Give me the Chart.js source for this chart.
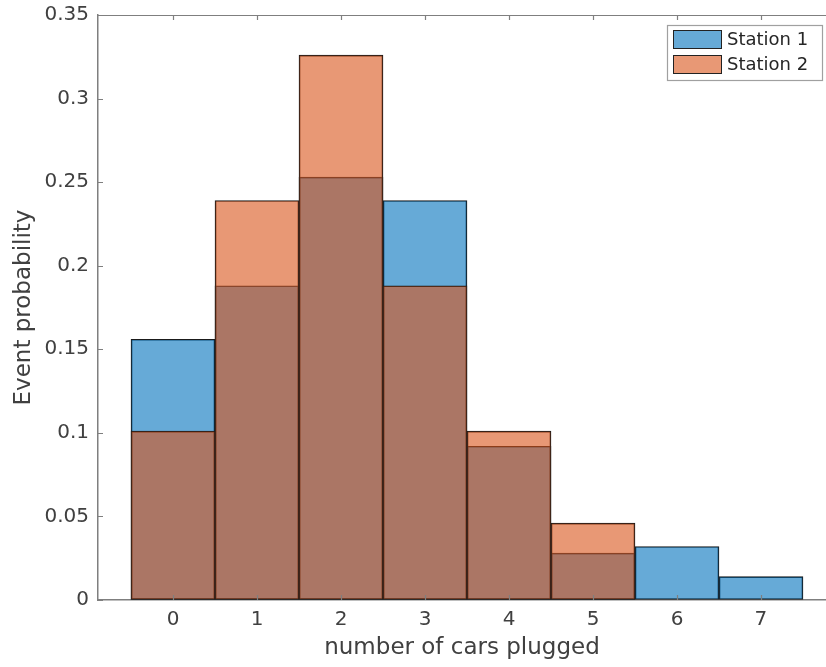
<!DOCTYPE html>
<html>
<head>
<meta charset="utf-8">
<script src="https://cdn.jsdelivr.net/npm/chart.js@4.4.0/dist/chart.umd.min.js"></script>
<style>
  html, body { margin: 0; padding: 0; background: #fff; }
  #wrap { width: 826px; height: 667px; position: relative; }
</style>
</head>
<body>
<div id="wrap"><canvas id="c" width="826" height="667"></canvas></div>
<script>
// ---- data ----
const categories = [0, 1, 2, 3, 4, 5, 6, 7];
const station1 = [0.156, 0.188, 0.253, 0.239, 0.092, 0.028, 0.032, 0.014];
const station2 = [0.101, 0.239, 0.326, 0.188, 0.101, 0.046, 0, 0];
const seriesNames = ['Station 1', 'Station 2'];
const yTicks = [0, 0.05, 0.1, 0.15, 0.2, 0.25, 0.3, 0.35];
const yTickLabels = ['0', '0.05', '0.1', '0.15', '0.2', '0.25', '0.3', '0.35'];
const xTitle = 'number of cars plugged';
const yTitle = 'Event probability';

// ---- style ----
const FONT = "'DejaVu Sans', sans-serif";
const AXIS_COLOR = '#7f7f7f';
const TEXT_COLOR = '#404040';
const fills = ['rgba(0,114,189,0.6)', 'rgba(217,83,25,0.6)'];

const toPoints = arr => categories.map((c, i) => ({ x: c, y: arr[i] }));

const inwardTicks = {
  id: 'inwardTicks',
  afterDatasetsDraw(chart) {
    const { ctx, chartArea, scales } = chart;
    const len = 5;
    ctx.save();
    ctx.strokeStyle = AXIS_COLOR;
    ctx.lineWidth = 1.2;
    ctx.beginPath();
    ctx.moveTo(chartArea.left, chartArea.top + 0.5);
    ctx.lineTo(chartArea.right, chartArea.top + 0.5);
    ctx.stroke();
    ctx.beginPath();
    categories.forEach(v => {
      const px = Math.round(scales.x.getPixelForValue(v)) + 0.5;
      ctx.moveTo(px, chartArea.bottom);
      ctx.lineTo(px, chartArea.bottom - len);
      ctx.moveTo(px, chartArea.top);
      ctx.lineTo(px, chartArea.top + len);
    });
    yTicks.forEach(v => {
      const py = Math.round(scales.y.getPixelForValue(v)) + 0.5;
      ctx.moveTo(chartArea.left, py);
      ctx.lineTo(chartArea.left + len, py);
    });
    ctx.stroke();
    ctx.restore();
  }
};

const boxLegend = {
  id: 'boxLegend',
  afterDraw(chart) {
    const { ctx } = chart;
    const bx = 667, by = 25, bw = 155, bh = 55;
    ctx.save();
    ctx.fillStyle = '#fff';
    ctx.fillRect(bx, by, bw, bh);
    ctx.strokeStyle = '#a0a0a0';
    ctx.lineWidth = 1.2;
    ctx.strokeRect(bx + 0.5, by + 0.5, bw, bh);
    ctx.font = '18px ' + FONT;
    ctx.textBaseline = 'middle';
    seriesNames.forEach((name, i) => {
      const sy = 30 + i * 25;
      ctx.fillStyle = '#fff';
      ctx.fillRect(673, sy, 49, 19);
      ctx.fillStyle = fills[i];
      ctx.fillRect(673, sy, 49, 19);
      ctx.strokeStyle = '#222';
      ctx.lineWidth = 1;
      ctx.strokeRect(673.5, sy + 0.5, 48, 18);
      ctx.fillStyle = '#262626';
      ctx.fillText(name, 727, sy + 10);
    });
    ctx.restore();
  }
};

new Chart(document.getElementById('c'), {
  type: 'bar',
  data: {
    datasets: [
      { label: seriesNames[0], data: toPoints(station1), backgroundColor: fills[0],
        borderColor: '#1a1a1a', borderWidth: 1, borderSkipped: false, order: 1 },
      { label: seriesNames[1], data: toPoints(station2), backgroundColor: fills[1],
        borderColor: '#1a1a1a', borderWidth: 1, borderSkipped: false, order: 0 }
    ]
  },
  options: {
    responsive: false,
    animation: false,
    layout: { padding: { top: 15, right: 0, left: 0, bottom: 0 } },
    datasets: { bar: { barPercentage: 1, categoryPercentage: 1, grouped: false } },
    plugins: { legend: { display: false }, tooltip: { enabled: false } },
    scales: {
      x: {
        type: 'linear',
        offset: false,
        min: -0.893, max: 7.774,
        afterBuildTicks: s => { s.ticks = categories.map(v => ({ value: v })); },
        afterFit: s => { s.height = 67; s.paddingLeft = 0; s.paddingRight = 0; },
        grid: { display: true, drawOnChartArea: false, drawTicks: false, offset: false },
        border: { display: true, color: AXIS_COLOR, width: 1.5 },
        ticks: { color: TEXT_COLOR, font: { family: FONT, size: 20 }, padding: 8, maxRotation: 0,
                 callback: v => String(v) },
        title: { display: true, text: xTitle, color: TEXT_COLOR, font: { family: FONT, size: 23 },
                 padding: { top: 2, bottom: 5 } }
      },
      y: {
        min: 0, max: 0.35,
        afterBuildTicks: s => { s.ticks = yTicks.map(v => ({ value: v })); },
        afterFit: s => { s.width = 98; s.paddingTop = 0; s.paddingBottom = 0; },
        grid: { display: true, drawOnChartArea: false, drawTicks: false },
        border: { display: true, color: AXIS_COLOR, width: 1.5 },
        ticks: { color: TEXT_COLOR, font: { family: FONT, size: 20 }, padding: 9,
                 callback: (v) => { const i = yTicks.findIndex(t => Math.abs(t - v) < 1e-9); return i >= 0 ? yTickLabels[i] : ''; } },
        title: { display: true, text: yTitle, color: TEXT_COLOR, font: { family: FONT, size: 23 },
                 padding: { top: 10, bottom: 0 } }
      }
    }
  },
  plugins: [inwardTicks, boxLegend]
});
</script>
</body>
</html>
